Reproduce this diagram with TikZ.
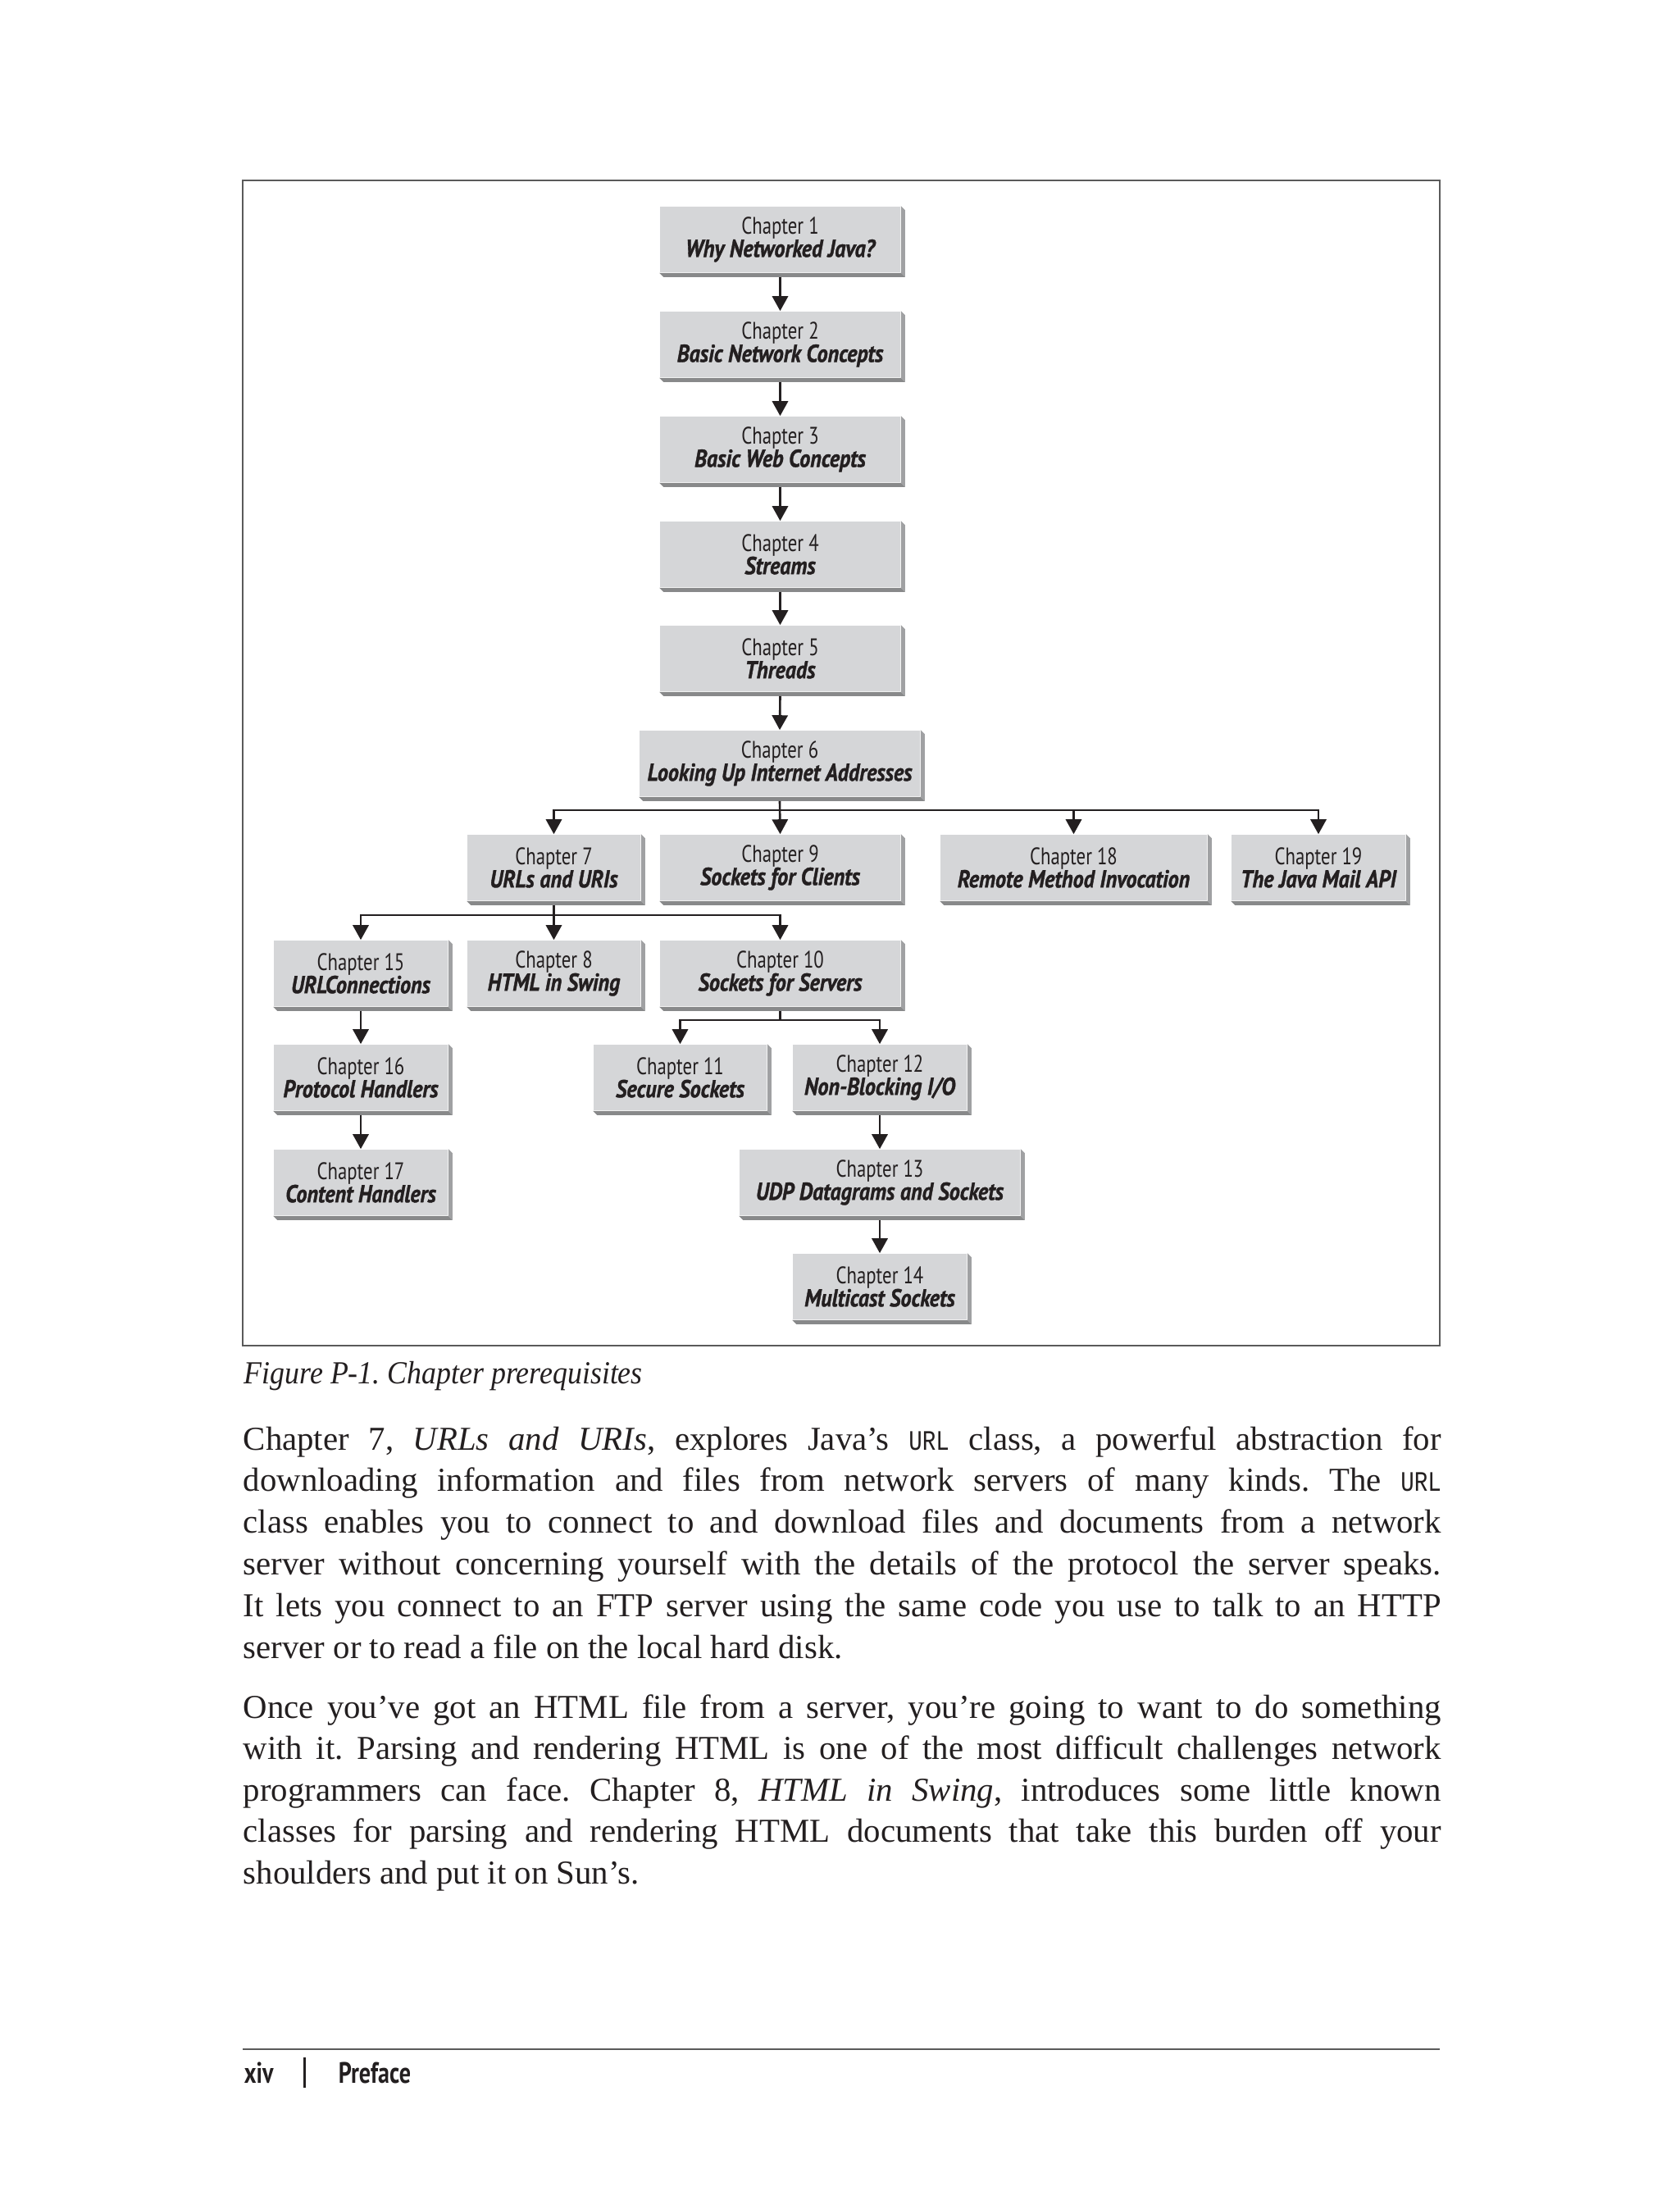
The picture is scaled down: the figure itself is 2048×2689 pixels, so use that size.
\documentclass[tikz,border=0pt]{standalone}
\usepackage{fontspec}
\usepackage{graphicx}
\setmainfont{Liberation Serif}
\newfontfamily\cfont[FakeStretch=0.78]{PT Sans}
\newfontfamily\tfont[FakeStretch=0.87,FakeBold=1.2]{PT Sans}
\newfontfamily\codefont[FakeStretch=0.8]{Liberation Mono}
\usetikzlibrary{arrows.meta}
\definecolor{face}{RGB}{213,214,216}
\definecolor{bevel}{RGB}{160,161,163}
\definecolor{ink}{RGB}{35,31,32}
\definecolor{framec}{RGB}{90,90,90}
\newlength\tw \setlength\tw{365.25pt}
\newcommand\jline[1]{\sbox0{#1}\ifdim\wd0>\tw\resizebox{\tw}{\height}{#1}\else\makebox[\tw][s]{#1}\fi}
\newcommand\code[1]{{\codefont\fontsize{8.6}{10}\selectfont #1}}
\tikzset{
  chbox/.style={rectangle, fill=face, inner sep=0pt, minimum height=20pt, align=center,
    text=ink, font=\cfont\fontsize{7.3}{7}\selectfont},
  conn/.style={draw=ink, line width=0.65pt},
  arr/.style={conn, -{Triangle[length=4.5pt,width=4.8pt]}},
  bodyline/.style={anchor=base west, inner sep=0pt, text=ink, font=\fontsize{10.2}{12.7}\selectfont},
}
% name, x1, x2, top, number, title
\newcommand\chbox[6]{%
  \node[chbox, minimum width={(#3-#2-5)*0.25pt}] (#1) at ({(#2+#3-5)/2},{#4+40}) {Chapter #5\\{\tfont\fontsize{7.5}{7}\selectfont\bfseries\itshape #6}};
  \fill[bevel] (#1.north east) -- ++(5,5) -- ([shift={(5,5)}]#1.south east) -- (#1.south east) -- cycle;
  \fill[bevel!85!black] (#1.south west) -- ++(5,5) -- ([shift={(5,5)}]#1.south east) -- (#1.south east) -- cycle;
}
\begin{document}
\frenchspacing
\begin{tikzpicture}[x=0.25pt,y=-0.25pt]
\fill[white] (0,0) rectangle (2048,2689);
\useasboundingbox (0,0) rectangle (2048,2689);
% frame
\draw[framec, line width=0.5pt] (296,220) rectangle (1756,1641);
% boxes
\chbox{c1}{805}{1103}{252}{1}{Why Networked Java?}
\chbox{c2}{805}{1103}{380}{2}{Basic Network Concepts}
\chbox{c3}{805}{1103}{508}{3}{Basic Web Concepts}
\chbox{c4}{805}{1103}{636}{4}{Streams}
\chbox{c5}{805}{1103}{763}{5}{Threads}
\chbox{c6}{780}{1127}{891}{6}{Looking Up Internet Addresses}
\chbox{c7}{570}{786}{1018}{7}{URLs and URIs}
\chbox{c9}{805}{1103}{1018}{9}{Sockets for Clients}
\chbox{c18}{1147}{1477}{1018}{18}{Remote Method Invocation}
\chbox{c19}{1502}{1719}{1018}{19}{The Java Mail API}
\chbox{c15}{334}{551}{1147}{15}{URLConnections}
\chbox{c8}{570}{786}{1147}{8}{HTML in Swing}
\chbox{c10}{805}{1103}{1147}{10}{Sockets for Servers}
\chbox{c16}{334}{551}{1274}{16}{Protocol Handlers}
\chbox{c11}{724}{940}{1274}{11}{Secure Sockets}
\chbox{c12}{967}{1184}{1274}{12}{Non-Blocking I/O}
\chbox{c17}{334}{551}{1402}{17}{Content Handlers}
\chbox{c13}{902}{1249}{1402}{13}{UDP Datagrams and Sockets}
\chbox{c14}{967}{1184}{1529}{14}{Multicast Sockets}
% branch points
\coordinate (b6) at (951,988);
\coordinate (b7) at (675,1116);
\coordinate (b10) at (951,1244);
% connectors
\draw[arr] ([yshift=-1.25pt]c1.south) -- (c2.north);
\draw[arr] ([yshift=-1.25pt]c2.south) -- (c3.north);
\draw[arr] ([yshift=-1.25pt]c3.south) -- (c4.north);
\draw[arr] ([yshift=-1.25pt]c4.south) -- (c5.north);
\draw[arr] ([yshift=-1.25pt]c5.south) -- (c6.north);
\draw[arr] ([yshift=-1.25pt]c6.south) -- (c9.north);
\draw[arr] (c6.south |- b6) -| (c7.north);
\draw[arr] (c6.south |- b6) -| (c18.north);
\draw[arr] (c6.south |- b6) -| (c19.north);
\draw[arr] ([yshift=-1.25pt]c7.south) -- (c8.north);
\draw[arr] (c7.south |- b7) -| (c15.north);
\draw[arr] (c7.south |- b7) -| (c10.north);
\draw[conn] ([yshift=-1.25pt]c10.south) -- (c10.south |- b10);
\draw[arr] (c10.south |- b10) -| (c11.north);
\draw[arr] (c10.south |- b10) -| (c12.north);
\draw[arr] ([yshift=-1.25pt]c12.south) -- (c13.north);
\draw[arr] ([yshift=-1.25pt]c13.south) -- (c14.north);
\draw[arr] ([yshift=-1.25pt]c15.south) -- (c16.north);
\draw[arr] ([yshift=-1.25pt]c16.south) -- (c17.north);
% caption
\node[anchor=base west, inner sep=0pt, text=ink] (cap) at (297,1687)
  {\fontsize{9.8}{12}\selectfont\itshape\resizebox{121.5pt}{\height}{Figure P-1. Chapter prerequisites}};
% paragraph 1
\node[bodyline] (p1a) at (296,1768) {\jline{Chapter~7, \textit{URLs and URIs}, explores Java’s \code{URL} class, a powerful abstraction for}};
\node[bodyline] (p1b) at (296,1818.8) {\jline{downloading information and files from network servers of many kinds. The \code{URL}}};
\node[bodyline] (p1c) at (296,1869.6) {\jline{class enables you to connect to and download files and documents from a network}};
\node[bodyline] (p1d) at (296,1920.4) {\jline{server without concerning yourself with the details of the protocol the server speaks.}};
\node[bodyline] (p1e) at (296,1971.2) {\jline{It lets you connect to an FTP server using the same code you use to talk to an HTTP}};
\node[bodyline] (p1f) at (296,2022) {server or to read a file on the local hard disk.};
% paragraph 2
\node[bodyline] (p2a) at (296,2095) {\jline{Once you’ve got an HTML file from a server, you’re going to want to do something}};
\node[bodyline] (p2b) at (296,2145.5) {\jline{with it. Parsing and rendering HTML is one of the most difficult challenges network}};
\node[bodyline] (p2c) at (296,2196) {\jline{programmers can face. Chapter~8, \textit{HTML in Swing}, introduces some little known}};
\node[bodyline] (p2d) at (296,2246.5) {\jline{classes for parsing and rendering HTML documents that take this burden off your}};
\node[bodyline] (p2e) at (296,2297) {shoulders and put it on Sun’s.};
% footer
\draw[framec, line width=0.4pt] (296,2499) -- (1756,2499);
\node[anchor=base west, inner sep=0pt, text=ink, font=\cfont\bfseries\fontsize{9}{10}\selectfont] (pg) at (297,2540) {xiv};
\draw[ink, line width=0.75pt] (371,2509) -- (371,2546);
\node[anchor=base west, inner sep=0pt, text=ink, font=\cfont\bfseries\fontsize{9}{10}\selectfont] (sec) at (412,2540) {Preface};
\end{tikzpicture}
\end{document}
